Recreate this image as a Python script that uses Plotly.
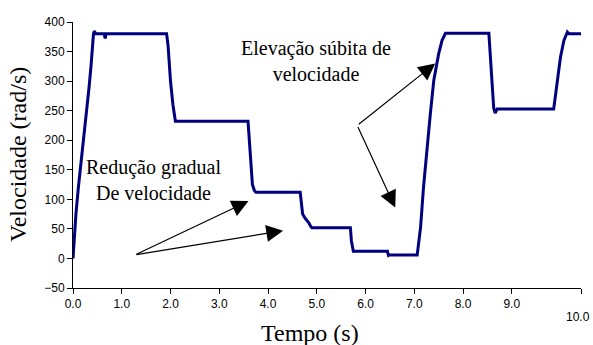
import plotly.graph_objects as go

# ---- data ----
time_s = [0.00, 0.03, 0.06, 0.11, 0.16, 0.22, 0.28, 0.33, 0.37, 0.40, 0.42, 0.44, 0.46,
          0.64, 0.66, 0.68, 1.92, 1.95, 2.00, 2.05, 2.08, 2.10, 3.59, 3.62, 3.65, 3.68,
          3.72, 3.75, 4.66, 4.68, 4.71, 4.76, 4.80, 4.84, 4.87, 4.90, 5.69, 5.71, 5.75,
          6.45, 6.47, 6.50, 7.06, 7.13, 7.19, 7.26, 7.33, 7.40, 7.50, 7.57, 7.64, 8.53,
          8.56, 8.60, 8.63, 8.66, 8.70, 9.86, 9.93, 10.00, 10.07, 10.14, 10.17, 10.42]
velocity = [0, 40, 75, 120, 157, 200, 242, 290, 326, 365, 380, 385, 380,
            380, 372, 380, 380, 360, 300, 260, 236, 232, 232, 200, 160, 125,
            115, 112, 112, 95, 75, 68, 64, 60, 55, 52, 52, 30, 12,
            12, 5, 6, 6, 53, 121, 189, 245, 301, 346, 369, 381, 381,
            347, 290, 254, 246, 253, 253, 301, 341, 369, 383, 380, 380]

x_tick_vals = [0, 1, 2, 3, 4, 5, 6, 7, 8, 9, 10.42]
x_tick_text = ["0.0", "1.0", "2.0", "3.0", "4.0", "5.0", "6.0", "7.0", "8.0", "9.0", ""]
x_last_label = "10.0"
y_tick_vals = [-50, 0, 50, 100, 150, 200, 250, 300, 350, 400]

x_range = [0, 10.42]
y_range = [-50, 400]

SERIF = "Liberation Serif"
SANS = "Liberation Sans"

W, H = 593, 345
ML, MR, MT, MB = 73, 12, 22, 57
PW, PH = W - ML - MR, H - MT - MB


def px_to_paper(px, py):
    """page pixel -> paper coords"""
    return (px - ML) / PW, (H - MB - py) / PH


fig = go.Figure()
fig.add_trace(go.Scatter(x=time_s, y=velocity, mode="lines",
                         line=dict(color="#000080", width=3), showlegend=False,
                         hoverinfo="skip"))

fig.update_layout(
    width=W, height=H,
    margin=dict(l=ML, r=MR, t=MT, b=MB),
    paper_bgcolor="white", plot_bgcolor="white",
    xaxis=dict(range=x_range, showline=True, linecolor="#000", linewidth=1,
               ticks="outside", ticklen=5, tickcolor="#000",
               tickvals=x_tick_vals, ticktext=x_tick_text,
               showgrid=False, zeroline=False,
               tickfont=dict(family=SANS, size=12, color="#000")),
    yaxis=dict(range=y_range, showline=True, linecolor="#000", linewidth=1,
               ticks="outside", ticklen=5, tickcolor="#000",
               tickvals=y_tick_vals, showgrid=False, zeroline=False,
               tickfont=dict(family=SANS, size=12, color="#000")),
)

# axis titles and the displaced last tick label
vx, vy = px_to_paper(18, 155)
fig.add_annotation(text="Velocidade (rad/s)", xref="paper", yref="paper", x=vx, y=vy,
                   textangle=-90, showarrow=False, xanchor="center", yanchor="middle",
                   font=dict(family=SERIF, size=24, color="#000"))
tx, ty = px_to_paper(310, 333)
fig.add_annotation(text="Tempo (s)", xref="paper", yref="paper", x=tx, y=ty,
                   showarrow=False, xanchor="center", yanchor="middle",
                   font=dict(family=SERIF, size=24, color="#000"))
lx, ly = px_to_paper(592, 317)
fig.add_annotation(text=x_last_label, xref="paper", yref="paper", x=lx, y=ly,
                   showarrow=False, xanchor="right", yanchor="middle",
                   font=dict(family=SANS, size=12, color="#000"))

# text labels
ex, ey = px_to_paper(316, 61)
fig.add_annotation(text="Elevação súbita de<br>velocidade", xref="paper", yref="paper",
                   x=ex, y=ey, showarrow=False, xanchor="center", yanchor="middle",
                   font=dict(family=SERIF, size=20, color="#000"))
rx, ry = px_to_paper(153, 180)
fig.add_annotation(text="Redução gradual<br>De velocidade", xref="paper", yref="paper",
                   x=rx, y=ry, showarrow=False, xanchor="center", yanchor="middle",
                   font=dict(family=SERIF, size=20, color="#000"))

# arrows (tail -> tip) in data coordinates
arrows = [
    ((1.27, 6), (3.60, 97)),
    ((1.27, 6), (4.31, 47)),
    ((5.83, 225), (7.43, 330)),
    ((5.83, 225), (6.61, 86)),
]
for (ax_, ay_), (hx, hy) in arrows:
    fig.add_annotation(x=hx, y=hy, ax=ax_, ay=ay_, xref="x", yref="y",
                       axref="x", ayref="y", text="", showarrow=True,
                       arrowhead=2, arrowsize=2.8, arrowwidth=1.2,
                       arrowcolor="#000", standoff=0)

# remove the default 8px page margin so the figure fills the window exactly
fig.write_html("out.html",
               config={"displayModeBar": False},
               post_script="document.body.style.margin='0';"
                           "document.body.style.overflow='hidden';")
